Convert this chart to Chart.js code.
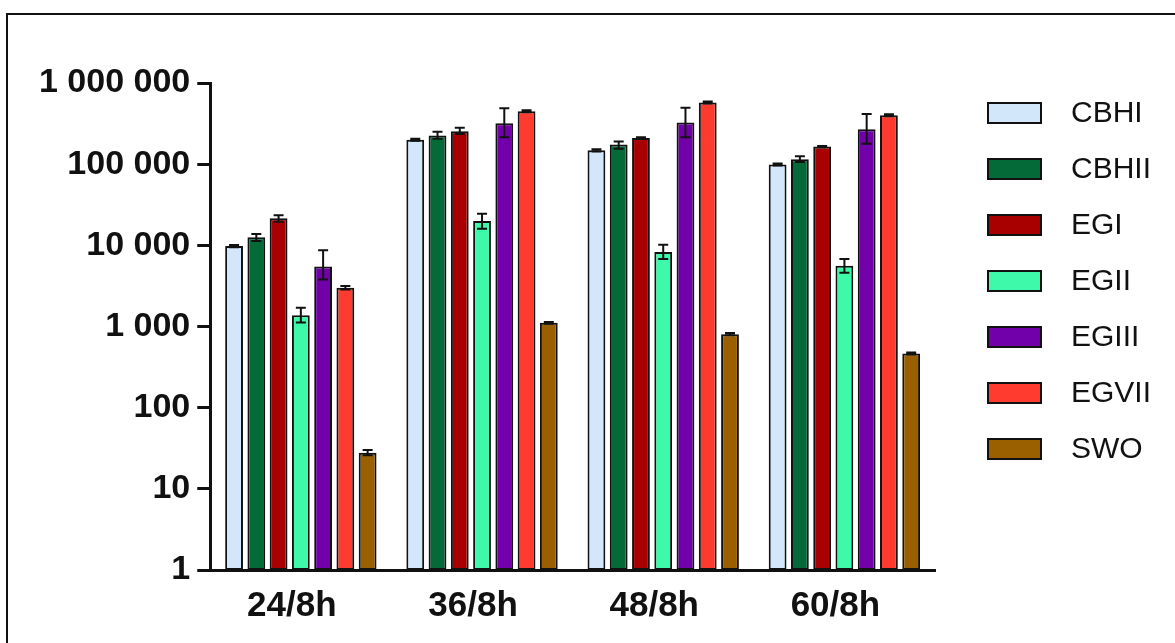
<!DOCTYPE html>
<html>
<head>
<meta charset="utf-8">
<script src="https://cdn.jsdelivr.net/npm/chart.js@4/dist/chart.umd.min.js"></script>
<style>
  html, body { margin: 0; padding: 0; background: #ffffff; overflow: hidden; }
  #wrap { position: relative; width: 1175px; height: 643px; }
  #frame { position: absolute; left: 6px; top: 13px; width: 1400px; height: 900px;
           border: 2.5px solid #111; box-sizing: border-box; pointer-events: none; }
  canvas { position: absolute; left: 0; top: 0; }
</style>
</head>
<body>
<div id="wrap">
  <canvas id="chart" width="1175" height="643"></canvas>
  <div id="frame"></div>
</div>
<script>
// Sampling points (hours of culture / induction)
const categories = ['24/8h', '36/8h', '48/8h', '60/8h'];

// Decade ticks of the log axis
const yTicks = [1, 10, 100, 1000, 10000, 100000, 1000000];

// Transcript levels per gene, with [low, high] error bounds
const cbhI      = [9800, 200000, 148000, 99000];
const cbhIErr   = [[9500, 10100], [194000, 206000], [143000, 153000], [96000, 102000]];
const cbhII     = [12600, 225000, 175000, 115000];
const cbhIIErr  = [[11300, 13800], [205000, 250000], [155000, 190000], [106000, 125000]];
const egI       = [21500, 255000, 210000, 165000];
const egIErr    = [[19500, 23500], [235000, 280000], [205000, 215000], [162000, 168000]];
const egII      = [1380, 20000, 8300, 5600];
const egIIErr   = [[1120, 1700], [16000, 24500], [6800, 10200], [4600, 6800]];
const egIII     = [5500, 320000, 325000, 270000];
const egIIIErr  = [[3800, 8700], [215000, 490000], [215000, 495000], [178000, 415000]];
const egVII     = [3000, 450000, 575000, 400000];
const egVIIErr  = [[2850, 3150], [437000, 463000], [558000, 592000], [388000, 412000]];
const swo       = [27.8, 1110, 805, 465];
const swoErr    = [[26, 30], [1080, 1140], [780, 830], [452, 478]];

const seriesNames  = ['CBHI', 'CBHII', 'EGI', 'EGII', 'EGIII', 'EGVII', 'SWO'];
const seriesValues = [cbhI, cbhII, egI, egII, egIII, egVII, swo];
const seriesErrors = [cbhIErr, cbhIIErr, egIErr, egIIErr, egIIIErr, egVIIErr, swoErr];
const seriesColors = ['#d3e7fb', '#046a38', '#a80000', '#3ef9a9', '#7200aa', '#ff3b30', '#9a6000'];

const FONT = "'Liberation Sans', Arial, Helvetica, sans-serif";

// Error whiskers drawn over each bar
const errorBars = {
  id: 'errorBars',
  afterDatasetsDraw(chart) {
    const ctx = chart.ctx;
    const y = chart.scales.y;
    ctx.save();
    ctx.strokeStyle = '#111';
    ctx.lineWidth = 2;
    chart.data.datasets.forEach((ds, i) => {
      const meta = chart.getDatasetMeta(i);
      meta.data.forEach((bar, j) => {
        const [lo, hi] = ds.errors[j];
        const yLo = y.getPixelForValue(lo);
        const yHi = y.getPixelForValue(hi);
        const cap = 5;
        ctx.beginPath();
        ctx.moveTo(bar.x, yLo); ctx.lineTo(bar.x, yHi);
        ctx.moveTo(bar.x - cap, yHi); ctx.lineTo(bar.x + cap, yHi);
        ctx.moveTo(bar.x - cap, yLo); ctx.lineTo(bar.x + cap, yLo);
        ctx.stroke();
      });
    });
    ctx.restore();
  }
};

// Key listing each gene beside the plot
const sideLegend = {
  id: 'sideLegend',
  afterDraw(chart) {
    const ctx = chart.ctx;
    const x0 = 988, boxW = 53, boxH = 20, top = 113, step = 56;
    ctx.save();
    ctx.font = '30px ' + FONT;
    ctx.textBaseline = 'middle';
    ctx.textAlign = 'left';
    chart.data.datasets.forEach((ds, i) => {
      const cy = top + i * step;
      ctx.fillStyle = ds.backgroundColor;
      ctx.fillRect(x0, cy - boxH / 2, boxW, boxH);
      ctx.lineWidth = 2;
      ctx.strokeStyle = '#111';
      ctx.strokeRect(x0, cy - boxH / 2, boxW, boxH);
      ctx.fillStyle = '#111';
      ctx.fillText(ds.label, 1071, cy + 1);
    });
    ctx.restore();
  }
};

const datasets = seriesNames.map((name, i) => ({
  label: name,
  data: seriesValues[i],
  errors: seriesErrors[i],
  backgroundColor: seriesColors[i],
  borderColor: '#111',
  borderWidth: 2,
  borderSkipped: false,
  categoryPercentage: 0.86,
  barPercentage: 0.8
}));

new Chart(document.getElementById('chart'), {
  type: 'bar',
  data: { labels: categories, datasets },
  options: {
    responsive: false,
    animation: false,
    layout: { padding: { left: 32, right: 240, top: 83, bottom: 1 } },
    plugins: { legend: { display: false }, tooltip: { enabled: false } },
    scales: {
      x: {
        grid: { display: false, drawTicks: false },
        border: { display: true, color: '#111', width: 3 },
        ticks: { color: '#111', font: { family: FONT, size: 35, weight: 'bold' }, padding: 15, labelOffset: -9 }
      },
      y: {
        type: 'logarithmic',
        min: 1,
        max: 1000000,
        afterBuildTicks(scale) { scale.ticks = yTicks.map(v => ({ value: v })); },
        grid: { display: true, drawOnChartArea: false, drawTicks: true, tickLength: 13, tickWidth: 3, tickColor: '#111' },
        border: { display: true, color: '#111', width: 3 },
        ticks: {
          color: '#111',
          padding: 7,
          font: { family: FONT, size: 34, weight: 'bold' },
          callback: v => String(v).replace(/\B(?=(\d{3})+(?!\d))/g, ' ')
        }
      }
    }
  },
  plugins: [errorBars, sideLegend]
});
</script>
</body>
</html>
